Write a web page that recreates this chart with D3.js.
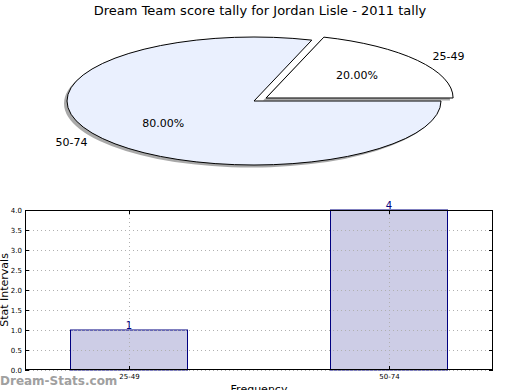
<!DOCTYPE html>
<html><head><meta charset="utf-8">
<script src="https://cdn.jsdelivr.net/npm/d3@7"></script>
<style>body{margin:0;background:#fff}svg{display:block;font-family:"DejaVu Sans",sans-serif}</style>
</head><body><svg id="c" width="520" height="390"></svg>
<script>
const title = "Dream Team score tally for Jordan Lisle - 2011 tally";
const categories = ["25-49", "50-74"];
const values = [1, 4];
const pieColors = ["#ffffff", "#eaf0fe"];
const explode = [0.08, 0];
const yTicks = [0, 0.5, 1, 1.5, 2, 2.5, 3, 3.5, 4];

const svg = d3.select("#c");
svg.append("text").attr("x", 260).attr("y", 15).attr("text-anchor", "middle")
  .attr("font-size", 13).attr("fill", "#000").text(title);

// ---- Pie ----
const cx = 254, cy = 101, rx = 187, ry = 64;
const total = d3.sum(values);
const pie = d3.pie().sort(null).startAngle(Math.PI / 2).endAngle(Math.PI / 2 - 2 * Math.PI);
const arcs = pie(values);
const arc = d3.arc().innerRadius(0).outerRadius(1);
const pg = svg.append("g");
function off(d, i, r) {
  const m = (d.startAngle + d.endAngle) / 2;
  return [cx + (r + explode[i]) * Math.sin(m) * rx, cy - (r + explode[i]) * Math.cos(m) * ry];
}
arcs.forEach((d, i) => {
  const [ox, oy] = off(d, i, 0);
  pg.append("path").attr("d", arc(d))
    .attr("transform", `translate(${ox - 3},${oy + 2.5}) scale(${rx},${ry})`)
    .attr("fill", "#9a9a9a").attr("opacity", 0.85);
});
arcs.forEach((d, i) => {
  const [ox, oy] = off(d, i, 0);
  pg.append("path").attr("d", arc(d))
    .attr("transform", `translate(${ox},${oy}) scale(${rx},${ry})`)
    .attr("fill", pieColors[i]).attr("stroke", "#000").attr("stroke-width", 1)
    .attr("vector-effect", "non-scaling-stroke");
});
arcs.forEach((d, i) => {
  const m = (d.startAngle + d.endAngle) / 2;
  const [lx, ly] = off(d, i, 1.1);
  pg.append("text").attr("x", lx).attr("y", ly).attr("dy", "0.35em")
    .attr("text-anchor", Math.sin(m) > 0 ? "start" : "end")
    .attr("font-size", 11).text(categories[i]);
  const [px, py] = off(d, i, 0.6);
  pg.append("text").attr("x", px).attr("y", py).attr("dy", "0.35em")
    .attr("text-anchor", "middle").attr("font-size", 11)
    .text((values[i] / total * 100).toFixed(2) + "%");
});

// ---- Bars ----
const L = 25, R = 493, T = 210, B = 370;
const x = d3.scaleLinear().domain([-0.4, 1.4]).range([L, R]);
const y = d3.scaleLinear().domain([0, 4]).range([B, T]);
const bw = 0.45;
const g = svg.append("g");
const idx = categories.map((c, i) => i);

g.selectAll("rect.bar").data(values).join("rect")
  .attr("x", (d, i) => x(i - bw / 2)).attr("width", x(bw) - x(0))
  .attr("y", d => y(d)).attr("height", d => y(0) - y(d))
  .attr("fill", "#cdcde6").attr("stroke", "#000080").attr("stroke-width", 1);

g.selectAll("line.hg").data(yTicks).join("line")
  .attr("x1", L).attr("x2", R).attr("y1", d => Math.round(y(d)) + 0.5).attr("y2", d => Math.round(y(d)) + 0.5)
  .attr("stroke", "#b0b0b0").attr("stroke-dasharray", "1,3");
g.selectAll("line.vg").data(idx).join("line")
  .attr("x1", d => Math.round(x(d)) + 0.5).attr("x2", d => Math.round(x(d)) + 0.5)
  .attr("y1", T).attr("y2", B)
  .attr("stroke", "#b0b0b0").attr("stroke-dasharray", "1,3");

const yl = d3.axisLeft(y).tickValues(yTicks).tickSizeInner(-4).tickSizeOuter(0).tickPadding(3).tickFormat(d3.format(".1f"));
const ya = g.append("g").attr("transform", `translate(${L},0)`).call(yl);
const yr = g.append("g").attr("transform", `translate(${R},0)`).call(d3.axisRight(y).tickValues(yTicks).tickSizeInner(-4).tickSizeOuter(0).tickFormat(""));
const xb = g.append("g").attr("transform", `translate(0,${B})`)
  .call(d3.axisBottom(x).tickValues(idx).tickSizeInner(-4).tickSizeOuter(0).tickPadding(4).tickFormat(i => categories[i]));
const xt = g.append("g").attr("transform", `translate(0,${T})`)
  .call(d3.axisTop(x).tickValues(idx).tickSizeInner(-4).tickSizeOuter(0).tickFormat(""));
[ya, yr, xb, xt].forEach(a => {
  a.select(".domain").remove();
  a.selectAll("line").attr("stroke", "#000");
  a.selectAll("text").attr("font-size", 7).attr("font-family", "DejaVu Sans").attr("fill", "#000");
});

g.append("rect").attr("x", L + 0.5).attr("y", T + 0.5).attr("width", R - L - 1).attr("height", B - T - 1)
  .attr("fill", "none").attr("stroke", "#000");

g.selectAll("text.val").data(values).join("text")
  .attr("x", (d, i) => x(i)).attr("y", d => y(d) - 1).attr("text-anchor", "middle")
  .attr("font-size", 10).attr("fill", "#000080").text(d => d);

svg.append("text").attr("transform", `translate(8,${(T + B) / 2}) rotate(-90)`)
  .attr("text-anchor", "middle").attr("font-size", 11).text("Stat Intervals");
svg.append("text").attr("x", (L + R) / 2).attr("y", 393).attr("text-anchor", "middle")
  .attr("font-size", 11).text("Frequency");
svg.append("text").attr("x", 0).attr("y", 385).attr("font-size", 12).attr("font-weight", 600)
  .attr("fill", "#a0a0a0").text("Dream-Stats.com");
</script></body></html>
